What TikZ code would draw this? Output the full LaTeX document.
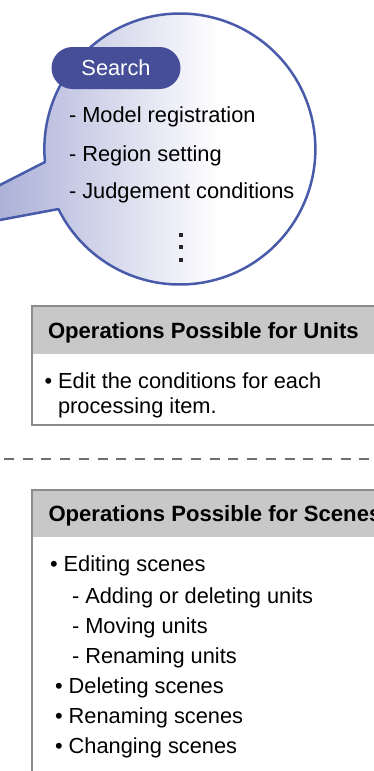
\documentclass[tikz,border=0pt]{standalone}
\usepackage{fontspec}
\setmainfont{Liberation Sans}
\definecolor{calloutline}{RGB}{72,90,170}
\definecolor{pillfill}{RGB}{70,78,152}
\definecolor{tailshade}{RGB}{165,170,212}
\definecolor{boxline}{RGB}{140,140,140}
\definecolor{headfill}{RGB}{200,200,200}
\definecolor{dashcol}{RGB}{110,110,110}
\begin{document}
\begin{tikzpicture}[x=1pt,y=-1pt,
  every node/.style={inner sep=0pt, outer sep=0pt, font=\fontsize{21.8}{22}\selectfont},
  txt/.style={anchor=base west},
  headtxt/.style={anchor=base west, font=\fontsize{22.1}{22}\selectfont\bfseries},
  dotsq/.style={fill=black!85, minimum size=4pt},
  boxborder/.style={draw=boxline, line width=2.4pt},
  pill/.style={fill=pillfill, rounded corners=21pt, minimum width=129pt, minimum height=42pt, text=white}]
\useasboundingbox (0,0) rectangle (374,771);
\clip (0,0) rectangle (374,771);

% callout bubble with tail
\begin{scope}
  \clip (45,162) arc[start angle=174.5, end angle=513.7, radius=135.5] -- (-20,223.7) -- (-20,195.2) -- cycle;
  \shade[left color=tailshade, right color=white] (-20,0) rectangle (220,300);
\end{scope}
\draw[calloutline, line width=2.5pt, line join=round]
  (45,162) arc[start angle=174.5, end angle=513.7, radius=135.5] -- (-20,223.7) -- (-20,195.2) -- cycle;

\node[pill] (search) at (116,68) {Search};
\node[txt] (m1) at (69,122.5) {- Model registration};
\node[txt] (m2) at (69,161.5) {- Region setting};
\node[txt] (m3) at (69,198.5) {- Judgement conditions};
\node[dotsq] (d1) at (181,235) {};
\node[dotsq] (d2) at (181,247) {};
\node[dotsq] (d3) at (181,259.5) {};

% Units box
\fill[white] (32,306) rectangle (400,425);
\fill[headfill] (32,306) rectangle (400,354);
\draw[boxborder] (32,306) rectangle (400,425);
\node[headtxt] (uh) at (48,338.5) {Operations Possible for Units};
\node[txt] (u1) at (44.5,388.5) {• Edit the conditions for each};
\node[txt] (u2) at (58,413) {processing item.};

% dashed separator
\coordinate (sepL) at (4,459);
\coordinate (sepR) at (400,459);
\draw[dashcol, line width=2.6pt, dash pattern=on 10pt off 8.7pt] (sepL) -- (sepR);

% Scenes box
\fill[headfill] (32,490) rectangle (400,537);
\draw[boxborder] (32,800) -- (32,490) -- (400,490);
\node[headtxt] (sh) at (48.5,521) {Operations Possible for Scenes};
\node[txt] (s1) at (50,571.5) {• Editing scenes};
\node[txt] (s2) at (72,603) {- Adding or deleting units};
\node[txt] (s3) at (72,633) {- Moving units};
\node[txt] (s4) at (72,663) {- Renaming units};
\node[txt] (s5) at (55,693) {• Deleting scenes};
\node[txt] (s6) at (55,723) {• Renaming scenes};
\node[txt] (s7) at (55,753) {• Changing scenes};
\end{tikzpicture}
\end{document}
